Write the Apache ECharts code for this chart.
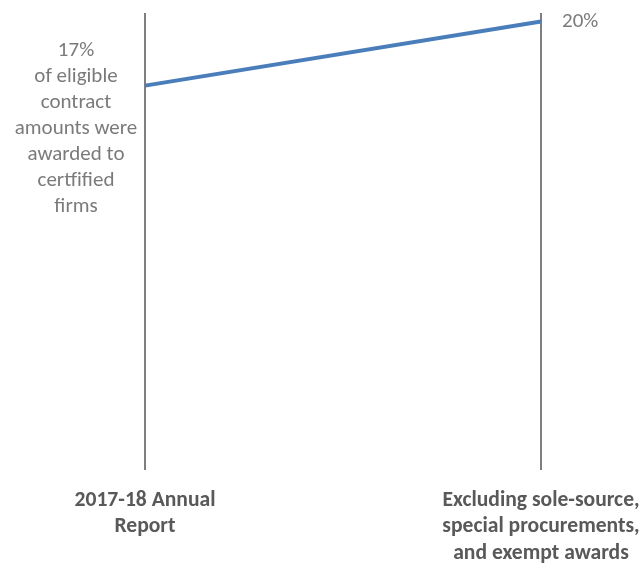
<!DOCTYPE html>
<html>
<head>
<meta charset="utf-8">
<script src="https://cdn.jsdelivr.net/npm/echarts@6/dist/echarts.min.js"></script>
<style>
  html, body { margin: 0; padding: 0; background: #fff; }
  #chart { width: 641px; height: 563px; }
</style>
</head>
<body>
<div id="chart"></div>
<script>
// Share of eligible contract amounts awarded to certified firms (percent)
const categories = [
  '2017-18 Annual\nReport',
  'Excluding sole-source,\nspecial procurements,\nand exempt awards'
];
const shareValues = [17, 20];
const startNote = 'of eligible\ncontract\namounts were\nawarded to\ncertfified\nfirms';

const textColor = '#595959';
const fontFamily = 'Carlito, Calibri, Lato, "Liberation Sans", Arial, sans-serif';

const chart = echarts.init(document.getElementById('chart'));
chart.setOption({
  animation: false,
  grid: { left: 145, right: 100, top: 13, bottom: 93, outerBoundsMode: 'none' },
  xAxis: {
    type: 'category',
    data: categories,
    boundaryGap: false,
    axisLine: { show: false },
    axisTick: { show: false },
    splitLine: { show: true, lineStyle: { color: '#7f7f7f', width: 2 } },
    axisLabel: {
      interval: 0,
      margin: 17,
      color: textColor,
      fontFamily: fontFamily,
      fontWeight: 'bold',
      fontSize: 21.6,
      lineHeight: 26.5
    }
  },
  yAxis: {
    type: 'value',
    min: -1,
    max: 20.4,
    show: false,
    splitLine: { show: false }
  },
  series: [{
    type: 'line',
    data: shareValues,
    symbol: 'none',
    lineStyle: { color: '#4a7ebb', width: 4 }
  }, {
    // value labels attached to each end of the slope
    type: 'scatter',
    data: shareValues.map(function (v, i) {
      if (i === 0) {
        return {
          value: v,
          label: {
            show: true,
            position: 'left',
            align: 'center',
            verticalAlign: 'middle',
            offset: [-64, 43],
            formatter: v + '%\n' + startNote
          }
        };
      }
      return {
        value: v,
        label: {
          show: true,
          position: 'right',
          distance: 21,
          formatter: v + '%'
        }
      };
    }),
    symbolSize: 0,
    silent: true,
    label: {
      color: textColor,
      fontFamily: fontFamily,
      fontSize: 21,
      lineHeight: 26
    }
  }]
});
</script>
</body>
</html>
